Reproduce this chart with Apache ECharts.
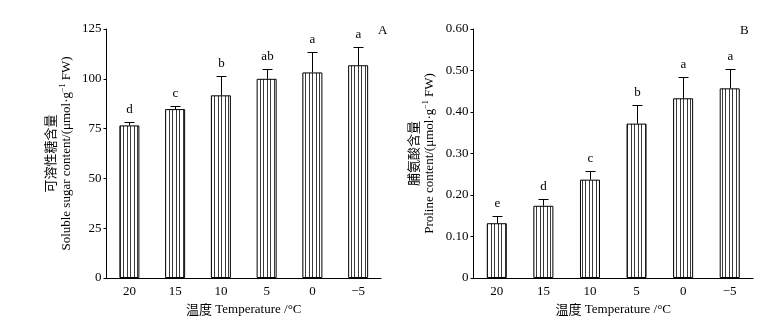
<!DOCTYPE html>
<html><head><meta charset="utf-8">
<script src="https://cdn.jsdelivr.net/npm/echarts@6/dist/echarts.min.js"></script>
<style>html,body{margin:0;padding:0;background:#fff}#c{width:776px;height:328px}</style>
</head><body><div id="c"></div>
<script>
const categories = ['20', '15', '10', '5', '0', '\u22125'];
const sugarMean = [76.6, 84.8, 91.7, 100.0, 103.2, 106.8];
const sugarSD = [1.9, 1.7, 9.5, 4.8, 10.4, 9.3];
const sugarLetters = ['d', 'c', 'b', 'ab', 'a', 'a'];
const prolineMean = [0.132, 0.174, 0.237, 0.372, 0.433, 0.457];
const prolineSD = [0.018, 0.016, 0.022, 0.044, 0.051, 0.046];
const prolineLetters = ['e', 'd', 'c', 'b', 'a', 'a'];
const sugarTicks = [0, 25, 50, 75, 100, 125];
const prolineTicks = ['0', '0.10', '0.20', '0.30', '0.40', '0.50', '0.60'];

const FONT = '"Liberation Serif", "Noto Sans CJK SC", serif';
const CJK = '"Noto Sans CJK SC", "Liberation Serif", serif';

const cv = document.createElement('canvas');
cv.width = 7; cv.height = 4;
const cx = cv.getContext('2d');
cx.fillStyle = '#fff'; cx.fillRect(0, 0, 7, 4);
cx.fillStyle = '#3a3a3a'; cx.fillRect(1, 0, 1, 4); cx.fillRect(4, 0, 1, 4);
const stripe = { image: cv, repeat: 'repeat' };

const chart = echarts.init(document.getElementById('c'), null, { renderer: 'canvas' });

function xAxis(idx) {
  return {
    type: 'category', gridIndex: idx, data: categories,
    axisLine: { lineStyle: { color: '#000', width: 1 } },
    axisTick: { inside: true, length: 4, lineStyle: { color: '#000' } },
    axisLabel: { color: '#000', fontFamily: FONT, fontSize: 13, margin: 7 },
    name: '{cn|温度} {en|Temperature /°C}', nameLocation: 'middle', nameGap: 22,
    nameTextStyle: { color: '#000', rich: {
      cn: { fontFamily: CJK, fontSize: 13, color: '#000' },
      en: { fontFamily: FONT, fontSize: 13, color: '#000' } } }
  };
}
function yAxis(idx, max, interval, fmt, cn, en1, en2, gap) {
  return {
    type: 'value', gridIndex: idx, min: 0, max: max, interval: interval,
    axisLine: { show: true, lineStyle: { color: '#000', width: 1 } },
    axisTick: { show: true, length: 3, lineStyle: { color: '#000' } },
    splitLine: { show: false },
    axisLabel: { color: '#000', fontFamily: FONT, fontSize: 13, margin: 5, formatter: fmt },
    name: '{cn|' + cn + '}\n{en|' + en1 + '}{sup|\u22121}{en|' + en2 + '}',
    nameLocation: 'middle', nameGap: gap,
    nameTextStyle: { color: '#000', lineHeight: 16, rich: {
      cn: { fontFamily: CJK, fontSize: 13, color: '#000', lineHeight: 16 },
      en: { fontFamily: FONT, fontSize: 13, color: '#000', lineHeight: 16 },
      sup: { fontFamily: FONT, fontSize: 8, color: '#000', verticalAlign: 'top', lineHeight: 16 } } }
  };
}
function errSeries(idx, means, sds, letters) {
  return {
    type: 'custom', xAxisIndex: idx, yAxisIndex: idx, z: 5,
    data: means.map((m, i) => [i, m, m + sds[i]]),
    renderItem: function (params, api) {
      const i = api.value(0);
      const p0 = api.coord([i, api.value(1)]);
      const p1 = api.coord([i, api.value(2)]);
      const x = Math.round(p0[0]) + 0.5;
      const y0 = p0[1], y1 = Math.round(p1[1]) + 0.5;
      return {
        type: 'group', children: [
          { type: 'line', shape: { x1: x, y1: y0, x2: x, y2: y1 }, style: { stroke: '#000', lineWidth: 1 } },
          { type: 'line', shape: { x1: x - 5, y1: y1, x2: x + 5, y2: y1 }, style: { stroke: '#000', lineWidth: 1 } },
          { type: 'text', x: x, y: y1 - 13, style: { text: letters[i], fill: '#000', font: '13px ' + FONT, align: 'center', verticalAlign: 'middle' } }
        ]
      };
    }
  };
}

chart.setOption({
  animation: false,
  backgroundColor: '#fff',
  grid: [
    { left: 106.5, right: 395, top: 29, bottom: 50 },
    { left: 473.5, right: 23, top: 29, bottom: 50 }
  ],
  xAxis: [xAxis(0), xAxis(1)],
  yAxis: [
    yAxis(0, sugarTicks[sugarTicks.length - 1], 25, v => String(v), '可溶性糖含量', 'Soluble sugar content/(μmol·g', ' FW)', 32),
    yAxis(1, 0.6, 0.1, v => (Math.abs(v) < 1e-9 ? prolineTicks[0] : prolineTicks[Math.round(v * 10)]), '脯氨酸含量', 'Proline content/(μmol·g', ' FW)', 36)
  ],
  graphic: [
    { type: 'text', left: 378, top: 24, style: { text: 'A', font: '13px ' + FONT, fill: '#000' } },
    { type: 'text', left: 740, top: 24, style: { text: 'B', font: '13px ' + FONT, fill: '#000' } }
  ],
  series: [
    { type: 'bar', xAxisIndex: 0, yAxisIndex: 0, data: sugarMean, barWidth: 20,
      itemStyle: { color: stripe, borderColor: '#000', borderWidth: 1 } },
    errSeries(0, sugarMean, sugarSD, sugarLetters),
    { type: 'bar', xAxisIndex: 1, yAxisIndex: 1, data: prolineMean, barWidth: 20,
      itemStyle: { color: stripe, borderColor: '#000', borderWidth: 1 } },
    errSeries(1, prolineMean, prolineSD, prolineLetters)
  ]
});
</script></body></html>
